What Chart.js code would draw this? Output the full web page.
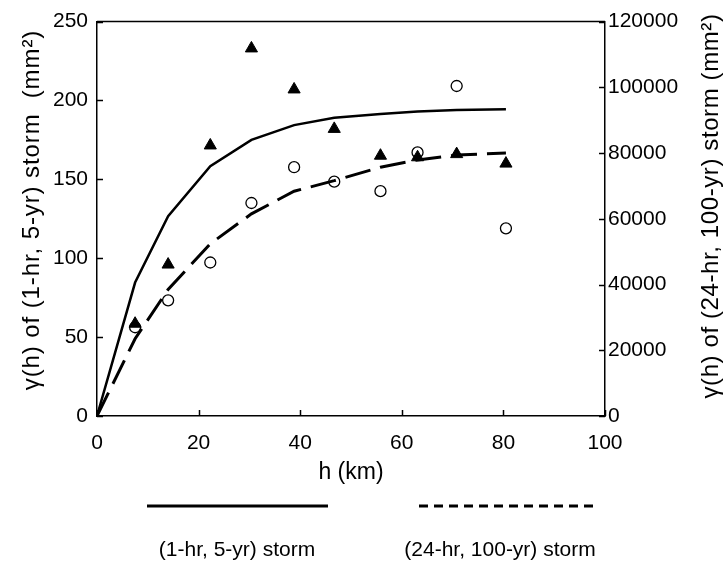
<!DOCTYPE html>
<html>
<head>
<meta charset="utf-8">
<script src="https://cdn.jsdelivr.net/npm/chart.js@4/dist/chart.umd.min.js"></script>
<style>
html,body{margin:0;padding:0;background:#fff;}
#wrap{width:726px;height:561px;position:relative;}
</style>
</head>
<body>
<div id="wrap"><canvas id="c" width="726" height="561"></canvas></div>
<script>
// ---- data ----
const lagKm = [7.5, 14.0, 22.3, 30.4, 38.8, 46.7, 55.8, 63.1, 70.8, 80.5];
const obs1hr5yr = [58.5, 96, 171.5, 233, 207, 182, 165, 164, 166, 160];
const obs24hr100yr = [27000, 35200, 46700, 64800, 75700, 71300, 68400, 80200, 100400, 57100];
const modelLagKm = [0, 7.5, 14.0, 22.3, 30.4, 38.8, 46.7, 55.8, 63.1, 70.8, 80.5];
const model1hr5yr = [0, 84.6, 126.7, 158.4, 175, 184.4, 189, 191.5, 193, 194, 194.5];
const model24hr100yr = [0, 23500, 38500, 52400, 61500, 68400, 71600, 75700, 77900, 79400, 80000];
const xTicks = [0, 20, 40, 60, 80, 100];
const yLeftTicks = [0, 50, 100, 150, 200, 250];
const yRightTicks = [0, 20000, 40000, 60000, 80000, 100000, 120000];
const legendLabels = ['(1-hr, 5-yr) storm', '(24-hr, 100-yr) storm'];
const xTitle = 'h (km)';
const yLeftTitle = 'γ(h) of (1-hr, 5-yr) storm  (mm²)';
const yRightTitle = 'γ(h) of (24-hr, 100-yr) storm (mm²)';

const FONT = '"Liberation Sans", Arial, Helvetica, sans-serif';
const pts = (xs, ys) => xs.map((x, i) => ({x: x, y: ys[i]}));

function drawVTitle(ctx, text, cx, cy, size, spacing) {
  ctx.save();
  ctx.fillStyle = '#000';
  ctx.font = size + 'px ' + FONT;
  if ('letterSpacing' in ctx) ctx.letterSpacing = spacing + 'px';
  ctx.textAlign = 'center';
  ctx.textBaseline = 'middle';
  ctx.translate(cx, cy);
  ctx.rotate(-Math.PI / 2);
  ctx.fillText(text, 0, 0);
  ctx.restore();
}

const framePlugin = {
  id: 'frame',
  afterDraw(chart) {
    const ctx = chart.ctx;
    const a = chart.chartArea;
    ctx.save();
    ctx.strokeStyle = '#000';
    ctx.lineWidth = 1.5;
    // top border
    ctx.beginPath();
    ctx.moveTo(a.left, a.top);
    ctx.lineTo(a.right, a.top);
    ctx.stroke();
    // inward ticks
    const L = 6;
    const xs = chart.scales.x, yl = chart.scales.y, yr = chart.scales.y2;
    ctx.beginPath();
    xTicks.forEach(v => { const p = Math.round(xs.getPixelForValue(v)) + 0.5; ctx.moveTo(p, a.bottom); ctx.lineTo(p, a.bottom - L); });
    yLeftTicks.forEach(v => { const p = Math.round(yl.getPixelForValue(v)) + 0.5; ctx.moveTo(a.left, p); ctx.lineTo(a.left + L, p); });
    yRightTicks.forEach(v => { const p = Math.round(yr.getPixelForValue(v)) + 0.5; ctx.moveTo(a.right, p); ctx.lineTo(a.right - L, p); });
    ctx.stroke();
    ctx.restore();

    // axis titles (both read bottom to top)
    drawVTitle(ctx, yLeftTitle, 32, 210, 24, 0.9);
    drawVTitle(ctx, yRightTitle, 711, 206, 24, 0.6);

    // legend below
    ctx.save();
    ctx.strokeStyle = '#000';
    ctx.lineWidth = 3;
    ctx.beginPath();
    ctx.moveTo(147, 506); ctx.lineTo(328, 506);
    ctx.stroke();
    ctx.setLineDash([9, 6]);
    ctx.beginPath();
    ctx.moveTo(419, 506); ctx.lineTo(596, 506);
    ctx.stroke();
    ctx.setLineDash([]);
    ctx.fillStyle = '#000';
    ctx.font = '21px ' + FONT;
    ctx.textAlign = 'center';
    ctx.textBaseline = 'middle';
    ctx.fillText(legendLabels[0], 237, 550);
    ctx.fillText(legendLabels[1], 500, 550);
    ctx.restore();
  }
};

new Chart(document.getElementById('c'), {
  type: 'scatter',
  data: {
    datasets: [
      {
        label: 'obs 1-hr 5-yr',
        data: pts(lagKm, obs1hr5yr),
        yAxisID: 'y',
        pointStyle: 'triangle',
        pointRadius: 7,
        backgroundColor: '#000',
        borderColor: '#000',
        borderWidth: 1,
        showLine: false
      },
      {
        label: 'obs 24-hr 100-yr',
        data: pts(lagKm, obs24hr100yr),
        yAxisID: 'y2',
        pointStyle: 'circle',
        pointRadius: 5.5,
        backgroundColor: 'rgba(0,0,0,0)',
        borderColor: '#000',
        borderWidth: 1.3,
        showLine: false
      },
      {
        label: legendLabels[0],
        data: pts(modelLagKm, model1hr5yr),
        yAxisID: 'y',
        showLine: true,
        borderColor: '#000',
        borderWidth: 2.5,
        pointRadius: 0,
        tension: 0
      },
      {
        label: legendLabels[1],
        data: pts(modelLagKm, model24hr100yr),
        yAxisID: 'y2',
        showLine: true,
        borderColor: '#000',
        borderWidth: 3,
        borderDash: [26, 10],
        pointRadius: 0,
        tension: 0
      }
    ]
  },
  options: {
    responsive: false,
    animation: false,
    devicePixelRatio: 1,
    layout: { padding: { left: 0, right: 0, top: 20, bottom: 75 } },
    plugins: { legend: { display: false }, tooltip: { enabled: false } },
    scales: {
      x: {
        type: 'linear', min: 0, max: 100,
        afterBuildTicks: s => { s.ticks = xTicks.map(v => ({value: v})); },
        afterFit: s => { s.height = 70; },
        grid: { display: true, drawOnChartArea: false, drawTicks: false },
        border: { display: true, color: '#000', width: 1.5 },
        ticks: { color: '#000', font: { size: 21, family: FONT }, padding: 15, maxRotation: 0 },
        title: { display: true, text: xTitle, color: '#000', font: { size: 23, family: FONT }, padding: { top: 0, bottom: 0 } }
      },
      y: {
        type: 'linear', position: 'left', min: 0, max: 250,
        afterBuildTicks: s => { s.ticks = yLeftTicks.map(v => ({value: v})); },
        afterFit: s => { s.width = 97; },
        grid: { display: true, drawOnChartArea: false, drawTicks: false },
        border: { display: true, color: '#000', width: 1.5 },
        ticks: { color: '#000', font: { size: 21, family: FONT }, padding: 9 },
        title: { display: false }
      },
      y2: {
        type: 'linear', position: 'right', min: 0, max: 120000,
        afterBuildTicks: s => { s.ticks = yRightTicks.map(v => ({value: v})); },
        afterFit: s => { s.width = 121; },
        grid: { display: true, drawOnChartArea: false, drawTicks: false },
        border: { display: true, color: '#000', width: 1.5 },
        ticks: { color: '#000', font: { size: 21, family: FONT }, padding: 3, callback: v => String(v) }
      }
    }
  },
  plugins: [framePlugin]
});
</script>
</body>
</html>
